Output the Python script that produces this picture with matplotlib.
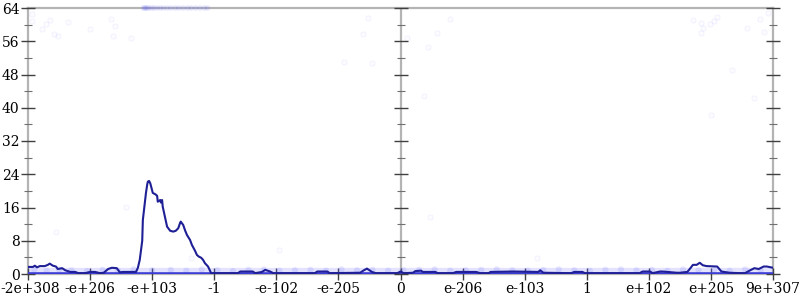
import numpy as np
import matplotlib
matplotlib.use("Agg")
import matplotlib.pyplot as plt
from matplotlib.transforms import ScaledTranslation

# tick labels along the x axis (evenly spaced positions 0..12)
x_labels = ['-2e+308', '-e+206', '-e+103', '-1', '-e-102', '-e-205', '0',
            'e-206', 'e-103', '1', 'e+102', 'e+205', '9e+307']
y_major = [0, 8, 16, 24, 32, 40, 48, 56, 64]
y_minor = [4, 12, 20, 28, 36, 44, 52, 60]

# main density curve (x in tick-slot units, y in counts)
curve_x = [0.0, 0.08, 0.11, 0.145, 0.19, 0.27, 0.32, 0.35, 0.40, 0.45, 0.48,
           0.55, 0.6, 0.68, 0.76, 0.81, 0.92, 1.0, 1.08, 1.16, 1.22, 1.29,
           1.35, 1.43, 1.48, 1.53, 1.64, 1.74, 1.77, 1.80, 1.84, 1.85, 1.88,
           1.90, 1.92, 1.93, 1.95, 1.97, 1.98, 2.01, 2.05, 2.08, 2.09, 2.13,
           2.14, 2.16, 2.17, 2.21, 2.24, 2.29, 2.34, 2.38, 2.42, 2.45, 2.46,
           2.5, 2.53, 2.56, 2.61, 2.64, 2.69, 2.72, 2.75, 2.79, 2.82, 2.85,
           2.90, 2.95, 3.38, 3.42, 3.62, 3.66, 3.77, 3.82, 3.9, 3.95, 4.62,
           4.66, 4.82, 4.86, 5.35, 5.41, 5.46, 5.54, 5.6, 5.95, 6.0, 6.05,
           6.2, 6.24, 6.33, 6.36, 6.4, 6.56, 6.6, 6.84, 6.9, 7.22, 7.28,
           7.42, 7.45, 7.82, 8.22, 8.25, 8.3, 8.75, 8.8, 8.93, 8.97, 9.85,
           9.9, 10.02, 10.06, 10.18, 10.22, 10.45, 10.5, 10.62, 10.68, 10.71,
           10.77, 10.82, 10.87, 10.93, 11.1, 11.17, 11.3, 11.48, 11.55, 11.62,
           11.7, 11.77, 11.85, 11.9, 12.0]
curve_y = [1.7, 1.7, 2.0, 1.6, 1.9, 1.9, 2.2, 2.5, 2.0, 1.8, 1.2,
           1.4, 0.9, 0.5, 0.5, 0.2, 0.2, 0.5, 0.5, 0.2, 0.3, 1.2,
           1.5, 1.4, 0.4, 0.5, 0.5, 0.5, 1.5, 3.4, 8.0, 13.0, 17.0,
           19.5, 21.5, 22.2, 22.4, 21.8, 21.2, 19.5, 19.2, 18.8, 17.4, 17.8,
           17.2, 17.8, 16.2, 13.5, 11.4, 10.4, 10.2, 10.4, 11.0, 12.3, 12.6,
           11.8, 10.5, 9.4, 8.2, 7.0, 5.6, 4.6, 4.2, 3.9, 3.4, 2.6,
           1.8, 0.2, 0.2, 0.6, 0.6, 0.2, 0.5, 1.0, 0.6, 0.2, 0.2,
           0.6, 0.6, 0.2, 0.3, 0.9, 1.3, 0.5, 0.2, 0.2, 0.6, 0.2,
           0.3, 0.7, 0.8, 0.5, 0.5, 0.5, 0.2, 0.2, 0.5, 0.5, 0.2,
           0.2, 0.5, 0.6, 0.5, 0.9, 0.3, 0.2, 0.5, 0.5, 0.2, 0.2,
           0.6, 0.6, 0.2, 0.6, 0.6, 0.3, 0.3, 0.5, 1.6, 2.2,
           2.2, 2.7, 2.1, 1.9, 1.8, 0.6, 0.3, 0.2, 0.2, 0.8,
           1.4, 1.2, 1.8, 1.8, 1.5]

# faint sample points scattered above the curve
pts_x = [0.06, 0.06, 0.23, 0.29, 0.35, 0.42, 0.48, 0.64, 1.0, 1.34, 1.4,
         1.37, 1.66, 5.48, 5.4, 5.09, 5.54, 6.1, 6.44, 6.59, 6.8, 6.38,
         10.71, 10.84, 10.87, 10.84, 10.99, 11.05, 11.1, 11.58, 11.79,
         11.92, 11.86, 11.34, 11.69, 11.0, 1.58, 0.45, 2.63, 6.48, 4.04, 8.2]
pts_y = [62.6, 60.9, 59.0, 60.2, 61.1, 57.7, 57.3, 60.6, 59.0, 61.4, 59.7,
         57.3, 56.8, 61.6, 57.7, 51.0, 50.8, 56.8, 54.6, 58.0, 61.4, 42.8,
         61.1, 60.4, 59.2, 58.0, 60.2, 60.9, 61.8, 59.2, 61.4,
         62.8, 58.2, 49.1, 42.3, 38.3, 16.1, 10.1, 3.8, 13.7, 5.8, 3.8]

# clipped samples piled on the top edge
top_x = [1.86, 1.88, 1.9, 1.92, 1.95, 1.99, 2.03, 2.08, 2.13, 2.18, 2.24,
         2.3, 2.37, 2.43, 2.5, 2.57, 2.63, 2.7, 2.77, 2.84, 2.89]

# faint samples near the floor
low_x = [0.1, 0.3, 0.5, 0.7, 0.95, 1.2, 1.45, 1.7, 2.0, 2.3, 2.55, 2.8,
         3.05, 3.3, 3.55, 3.8, 4.05, 4.3, 4.55, 4.8, 5.05, 5.3, 5.55, 5.8,
         6.05, 6.3, 6.55, 6.8, 7.05, 7.3, 7.55, 7.8, 8.05, 8.3, 8.55, 8.8,
         9.05, 9.3, 9.55, 9.8, 10.05, 10.3, 10.55, 10.8, 11.05, 11.3,
         11.55, 11.8]
low_y = [1.0, 0.8, 1.1, 0.9, 0.7, 1.0, 0.8, 1.1, 0.9, 1.0, 0.8, 1.1,
         0.9, 0.7, 1.0, 1.1, 0.8, 0.9, 1.0, 0.8, 1.1, 0.9, 1.0, 0.8,
         0.9, 1.0, 1.1, 0.8, 0.9, 1.0, 1.1, 0.9, 0.8, 1.0, 1.1, 0.9,
         0.8, 1.0, 1.1, 0.9, 1.0, 0.8, 1.1, 0.9, 1.0, 0.8, 1.1, 0.9]

plt.rcParams['font.family'] = ['DejaVu Serif']
fig = plt.figure(figsize=(8, 3), dpi=100)
ax = fig.add_axes([28 / 800, 26 / 300, 745 / 800, 266 / 300])

axis_grey = '#b4b4b4'
tick_grey = '#404040'

ax.set_xlim(0, 12)
ax.set_ylim(0, 64)
for side in ['left', 'right', 'top', 'bottom']:
    ax.spines[side].set_color(axis_grey)
    ax.spines[side].set_linewidth(1.6)
    ax.spines[side].set_zorder(1)
ax.axvline(6, color=axis_grey, lw=1.6, zorder=1)

# floor samples: a soft band just above zero
ax.plot([0, 12], [0.7, 0.7], color=(0.4, 0.4, 1.0, 0.18), lw=4.5, zorder=2,
        solid_capstyle='butt')
ax.scatter(low_x, low_y, s=20, color=(0.35, 0.35, 1.0, 0.15),
           edgecolors='none', zorder=2)
ax.plot([0, 12], [0, 0], color='#3c3cd8', lw=2.6, zorder=3, solid_capstyle='butt')

# clipped samples at the top
ax.scatter(top_x, [64] * len(top_x), s=16, color=(0.3, 0.3, 1.0, 0.12),
           edgecolors='none', zorder=3, clip_on=False)
ax.scatter(pts_x, pts_y, s=14, facecolors=(0, 0, 1, 0.01),
           edgecolors=(0.3, 0.3, 1.0, 0.06), linewidths=0.8, zorder=2)

ax.plot(curve_x, curve_y, color='#1f1f96', lw=1.5, zorder=4)

# ticks
ax.set_xticks(range(len(x_labels)))
ax.set_xticklabels(x_labels)
ax.set_yticks(y_major)
ax.set_yticks(y_minor, minor=True)
ax.yaxis.set_ticks_position('both')
ax.tick_params(axis='y', which='major', direction='inout', length=10,
               width=1.0, color=tick_grey, labelsize=10, pad=1)
ax.tick_params(axis='y', which='minor', direction='inout', length=6,
               width=0.8, color='#707070')
ax.tick_params(axis='x', which='major', direction='inout', length=8,
               width=1.0, color=tick_grey, labelsize=10, pad=2)
ax.tick_params(axis='y', labelright=False)

# nudge the first x label so it stays inside the figure
first = ax.xaxis.get_major_ticks()[0].label1
first.set_transform(first.get_transform() +
                    ScaledTranslation(2 / 100, 0, fig.dpi_scale_trans))

# ticks on the central axis
ax.plot([6] * len(y_major), y_major, ls='none', marker='_', ms=10,
        mew=1.0, color=tick_grey, clip_on=False, zorder=5)
ax.plot([6] * len(y_minor), y_minor, ls='none', marker='_', ms=6,
        mew=0.8, color='#707070', clip_on=False, zorder=5)

fig.savefig('out.png', dpi=100)
